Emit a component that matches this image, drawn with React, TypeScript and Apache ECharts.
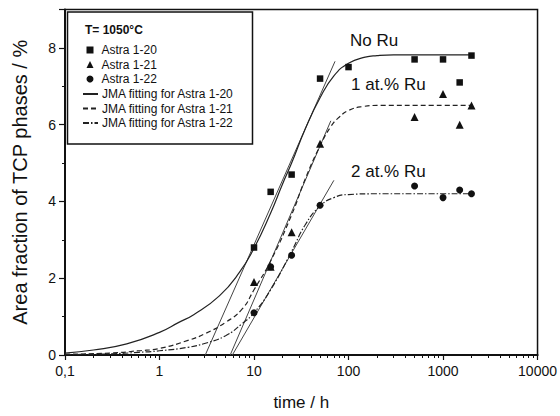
import React, { useEffect, useRef } from "react";
import * as echarts from "echarts";

// ---- data ----
const xTickLabels = ["0,1", "1", "10", "100", "1000", "10000"];
const yTickValues = [0, 2, 4, 6, 8];

const astra120: [number, number][] = [
  [10, 2.8], [15, 4.25], [25, 4.7], [50, 7.2], [100, 7.5], [500, 7.7], [1000, 7.7], [1500, 7.1], [2000, 7.8],
];
const astra121: [number, number][] = [
  [10, 1.9], [15, 2.3], [25, 3.2], [50, 5.5], [500, 6.2], [1000, 6.8], [1500, 6.0], [2000, 6.5],
];
const astra122: [number, number][] = [
  [10, 1.1], [15, 2.3], [25, 2.6], [50, 3.9], [500, 4.4], [1000, 4.1], [1500, 4.3], [2000, 4.2],
];

const fit120: [number, number][] = [
  [0.1, 0.05], [0.2, 0.13], [0.45, 0.29], [1, 0.59], [1.6, 0.85], [2.3, 1.05], [4.3, 1.54], [7, 2.15],
  [10, 2.78], [15, 3.7], [20, 4.45], [25, 5.0], [35, 5.9], [50, 6.7], [70, 7.27], [100, 7.6], [150, 7.76],
  [200, 7.8], [300, 7.82], [2000, 7.82],
];
const fit121: [number, number][] = [
  [0.1, 0.02], [0.3, 0.05], [0.6, 0.11], [1, 0.17], [2, 0.38], [3, 0.55], [5, 0.85], [7.5, 1.2], [10, 1.7],
  [15, 2.45], [25, 3.65], [35, 4.6], [50, 5.45], [65, 5.95], [80, 6.2], [100, 6.37], [140, 6.47], [200, 6.5],
  [2000, 6.5],
];
const fit122: [number, number][] = [
  [0.1, 0.01], [0.3, 0.03], [0.6, 0.07], [1, 0.11], [2, 0.2], [3, 0.3], [5, 0.5], [7.5, 0.82], [10, 1.1],
  [15, 1.7], [25, 2.7], [35, 3.4], [50, 3.88], [70, 4.1], [100, 4.18], [200, 4.2], [2000, 4.2],
];

const tangent120: [number, number][] = [[3.05, 0], [72, 7.65]];
const tangent121: [number, number][] = [[5.6, 0], [65, 6.1]];
const tangent122: [number, number][] = [[5.9, 0], [70, 4.55]];

const markerNames = ["Astra 1-20", "Astra 1-21", "Astra 1-22"];
const fitNames = ["JMA fitting for Astra 1-20", "JMA fitting for Astra 1-21", "JMA fitting for Astra 1-22"];
const legendTitle = "T= 1050°C";
const curveLabels = ["No Ru", "1 at.% Ru", "2 at.% Ru"];

const FONT = "'Liberation Sans', Arial, sans-serif";
const INK = "#111";

export default function App() {
  const ref = useRef<HTMLDivElement>(null);

  useEffect(() => {
    if (!ref.current) return;
    const chart = echarts.init(ref.current, undefined, { renderer: "svg" });

    const scatter = (name: string, data: [number, number][], symbol: string, size: number) => ({
      name,
      type: "scatter",
      data,
      symbol,
      symbolSize: size,
      itemStyle: { color: INK, opacity: 1 },
      z: 5,
    });
    const fit = (name: string, data: [number, number][], dash: any) => ({
      name,
      type: "line",
      data,
      symbol: "none",
      smooth: 0.5,
      itemStyle: { color: "#222" },
      lineStyle: { color: "#222", width: 1.2, type: dash },
      z: 3,
    });
    const tangent = (data: [number, number][]) => ({
      type: "line",
      data,
      symbol: "none",
      lineStyle: { color: "#444", width: 1 },
      z: 2,
    });

    chart.setOption({
      animation: false,
      backgroundColor: "#fff",
      grid: {
        left: 65,
        right: 21,
        top: 9.5,
        bottom: 60,
        show: true,
        borderColor: "#111",
        borderWidth: 1.5,
        backgroundColor: "transparent",
      },
      xAxis: {
        type: "log",
        logBase: 10,
        min: 0.1,
        max: 10000,
        name: "time / h",
        nameLocation: "middle",
        nameGap: 39,
        nameTextStyle: { fontFamily: FONT, fontSize: 17, color: INK },
        axisLine: { lineStyle: { color: "#111", width: 2 } },
        axisTick: { show: true, inside: false, length: 5, lineStyle: { color: "#111", width: 1.2 } },
        minorTick: { show: true, splitNumber: 9, length: 3, lineStyle: { color: "#111", width: 1 } },
        splitLine: { show: false },
        minorSplitLine: { show: false },
        axisLabel: {
          fontFamily: FONT,
          fontSize: 14,
          color: INK,
          margin: 9,
          formatter: (v: number) => {
            const i = Math.round(Math.log10(v)) + 1;
            return xTickLabels[i] ?? "";
          },
        },
      },
      yAxis: [
        {
          type: "value",
          min: 0,
          max: 9,
          interval: 2,
          name: "Area fraction of TCP phases / %",
          nameLocation: "middle",
          nameGap: 35,
          nameTextStyle: { fontFamily: FONT, fontSize: 20, color: INK },
          axisLine: { show: true, lineStyle: { color: "#111", width: 2 } },
          axisTick: { show: true, inside: false, length: 6, lineStyle: { color: "#111", width: 1.2 } },
          splitLine: { show: false },
          axisLabel: {
            fontFamily: FONT,
            fontSize: 14,
            color: INK,
            margin: 9,
            formatter: (v: number) => (yTickValues.includes(v) ? String(v) : ""),
          },
        },
        {
          type: "value",
          min: 0,
          max: 9,
          interval: 1,
          position: "left",
          offset: 0,
          axisLine: { show: false },
          axisTick: { show: true, inside: false, length: 3, lineStyle: { color: "#111", width: 1 } },
          axisLabel: { show: false },
          splitLine: { show: false },
        },
      ],
      legend: [
        {
          orient: "vertical",
          left: 81.5,
          top: 39,
          itemWidth: 7,
          itemHeight: 7,
          itemGap: 2.5,
          data: markerNames,
          itemStyle: { opacity: 1 },
          textStyle: { fontFamily: FONT, fontSize: 12, color: INK, padding: [0, 0, 0, 3] },
          selectedMode: false,
        },
        {
          orient: "vertical",
          left: 77,
          top: 83,
          itemWidth: 15,
          itemHeight: 8,
          itemGap: 2.5,
          itemStyle: { opacity: 0 },
          data: fitNames,
          textStyle: { fontFamily: FONT, fontSize: 12, color: INK, padding: [0, 0, 0, -1] },
          selectedMode: false,
        },
      ],
      graphic: [
        {
          type: "rect",
          shape: { x: 67.5, y: 12, width: 185, height: 132 },
          style: { fill: "#fff", stroke: "#111", lineWidth: 1.5 },
          z: 0,
        },
        {
          type: "text",
          x: 85,
          y: 30,
          style: {
            text: legendTitle,
            fontFamily: FONT,
            fontSize: 12,
            fontWeight: "bold",
            fill: INK,
            verticalAlign: "middle",
          },
          z: 10,
        },
        {
          type: "text",
          x: 350,
          y: 40,
          style: { text: curveLabels[0], fontFamily: FONT, fontSize: 17, fill: INK, verticalAlign: "middle" },
          z: 10,
        },
        {
          type: "text",
          x: 351,
          y: 84,
          style: { text: curveLabels[1], fontFamily: FONT, fontSize: 17, fill: INK, verticalAlign: "middle" },
          z: 10,
        },
        {
          type: "text",
          x: 351,
          y: 171,
          style: { text: curveLabels[2], fontFamily: FONT, fontSize: 17, fill: INK, verticalAlign: "middle" },
          z: 10,
        },
      ],
      series: [
        scatter(markerNames[0], astra120, "rect", 6.5),
        scatter(markerNames[1], astra121, "triangle", 8),
        scatter(markerNames[2], astra122, "circle", 7),
        fit(fitNames[0], fit120, "solid"),
        fit(fitNames[1], fit121, [5, 3]),
        fit(fitNames[2], fit122, [6, 2, 1.5, 2]),
        tangent(tangent120),
        tangent(tangent121),
        tangent(tangent122),
      ],
    });

    return () => chart.dispose();
  }, []);

  return (
    <div
      ref={ref}
      style={{ position: "absolute", left: 0, top: 0, width: 560, height: 416, background: "#fff" }}
    />
  );
}
